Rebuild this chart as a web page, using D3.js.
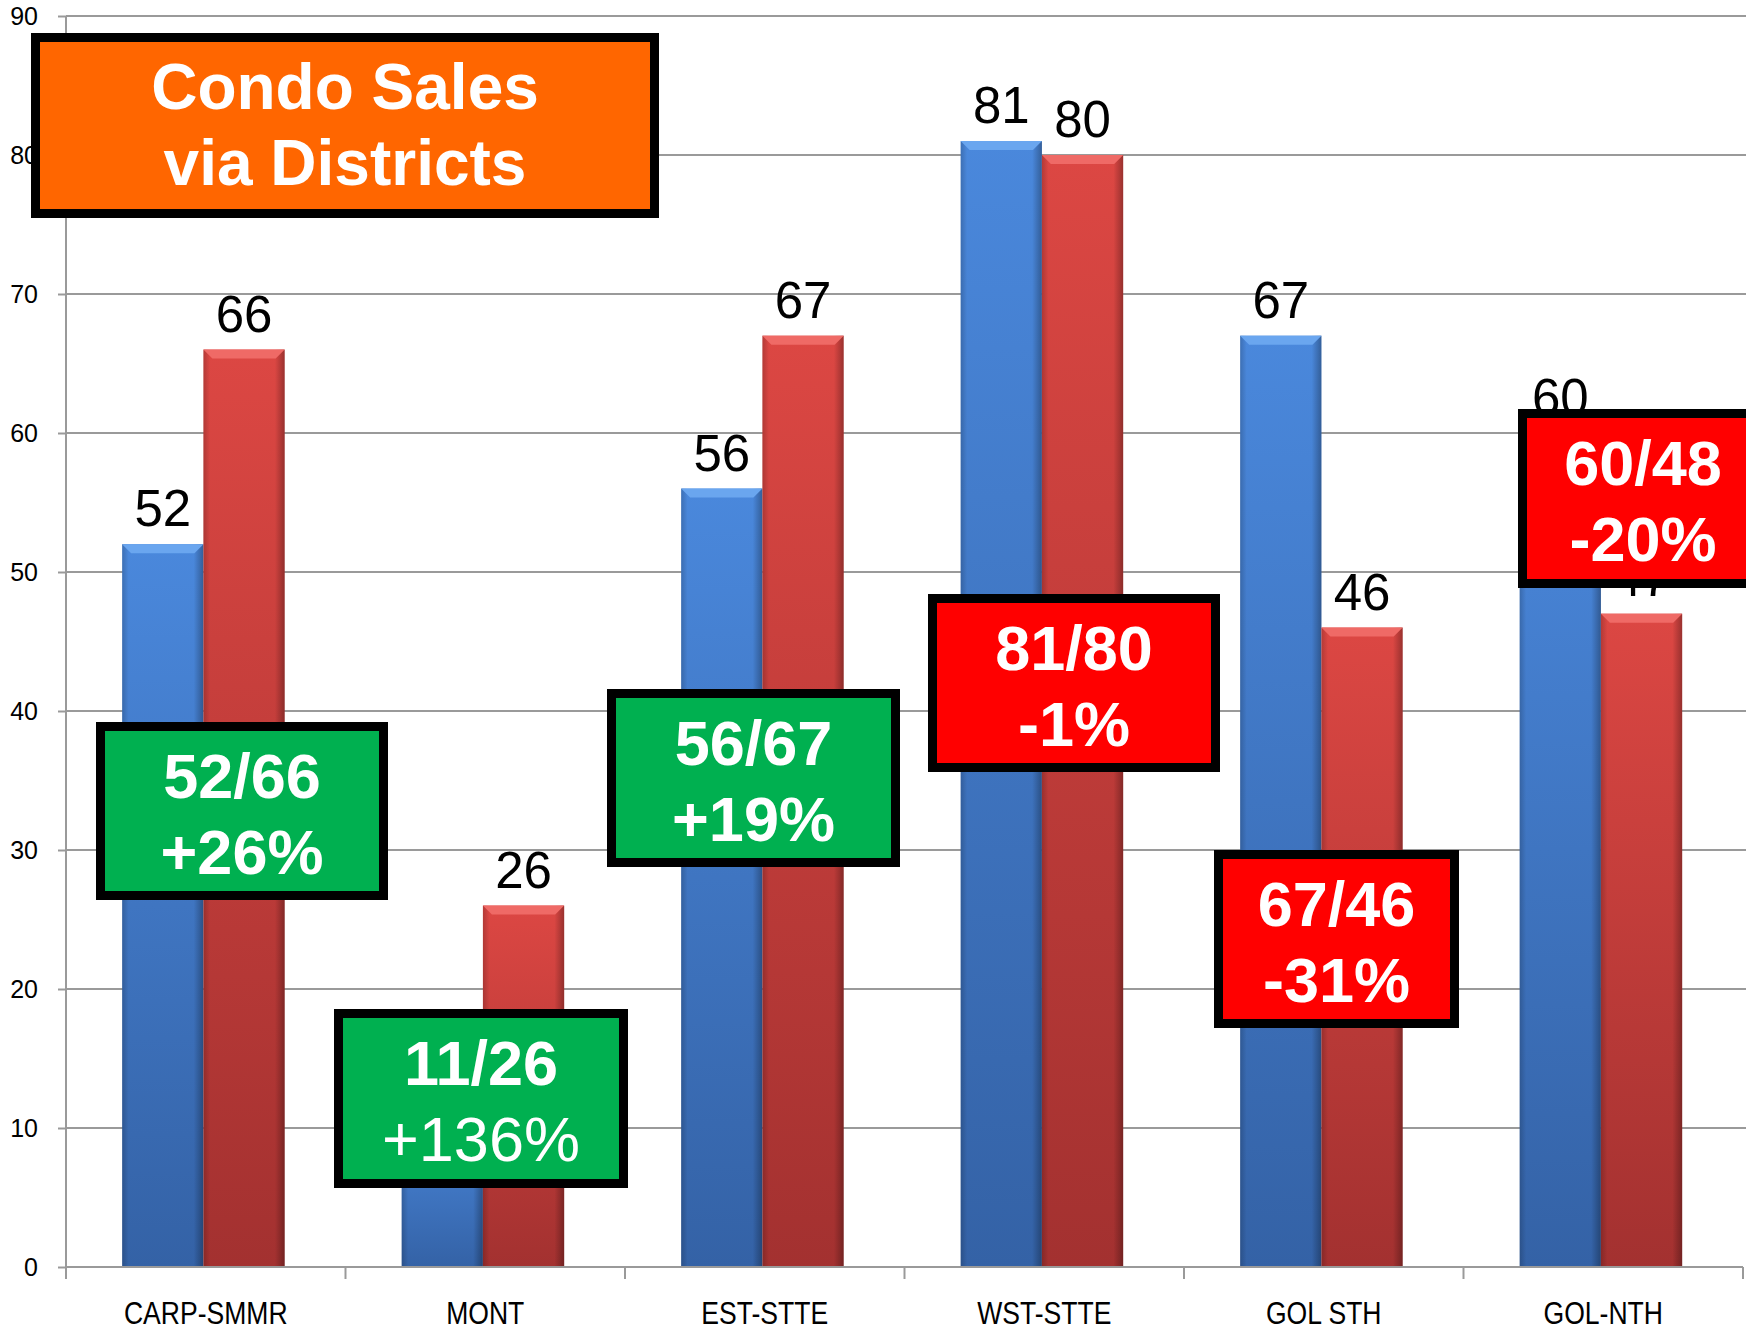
<!DOCTYPE html>
<html>
<head>
<meta charset="utf-8">
<script src="https://cdn.jsdelivr.net/npm/d3@7"></script>
<style>
  body { margin: 0; background: #fff; }
  text { font-family: "Liberation Sans", Arial, sans-serif; }
</style>
</head>
<body>
<div id="chart-area"></div>
<script>
// data
var districts = ["CARP-SMMR", "MONT", "EST-STTE", "WST-STTE", "GOL STH", "GOL-NTH"];
var blueValues = [52, 11, 56, 81, 67, 60];
var redValues = [66, 26, 67, 80, 46, 47];
var yTicks = [0, 10, 20, 30, 40, 50, 60, 70, 80, 90];
var boxLine1 = ["52/66", "11/26", "56/67", "81/80", "67/46", "60/48"];
var boxLine2 = ["+26%", "+136%", "+19%", "-1%", "-31%", "-20%"];
var boxKind = ["up", "up", "up", "down", "down", "down"];
var titleLines = ["Condo Sales", "via Districts"];

// layout of the call-out boxes (pixels)
var boxRects = [
  { x: 96, y: 722, w: 292, h: 178 },
  { x: 334, y: 1009, w: 294, h: 179 },
  { x: 607, y: 689, w: 293, h: 178 },
  { x: 928, y: 594, w: 292, h: 178 },
  { x: 1214, y: 850, w: 245, h: 178 },
  { x: 1518, y: 409, w: 250, h: 179 }
]

const WIDTH = 1746
const HEIGHT = 1332
const PLOT = { LEFT: 66, RIGHT: 1743, TOP: 16, BOTTOM: 1267 }

const svg = d3.select("#chart-area").append("svg")
  .attr("width", WIDTH)
  .attr("height", HEIGHT)

const defs = svg.append("defs")
function vGrad(id, top, bottom) {
  var g = defs.append("linearGradient").attr("id", id)
    .attr("x1", 0).attr("y1", 0).attr("x2", 0).attr("y2", 1)
  g.append("stop").attr("offset", "0%").attr("stop-color", top)
  g.append("stop").attr("offset", "100%").attr("stop-color", bottom)
}
vGrad("blueGrad", "#4a88dc", "#3462a6")
vGrad("redGrad", "#dc4743", "#a33130")
var edge = defs.append("linearGradient").attr("id", "edgeGrad")
  .attr("x1", 0).attr("y1", 0).attr("x2", 1).attr("y2", 0)
edge.append("stop").attr("offset", "0%").attr("stop-color", "#000").attr("stop-opacity", 0.18)
edge.append("stop").attr("offset", "8%").attr("stop-color", "#000").attr("stop-opacity", 0)
edge.append("stop").attr("offset", "88%").attr("stop-color", "#000").attr("stop-opacity", 0)
edge.append("stop").attr("offset", "100%").attr("stop-color", "#000").attr("stop-opacity", 0.3)

var x0 = d3.scaleBand()
  .domain(districts)
  .range([PLOT.LEFT, PLOT.RIGHT])
  .padding(0)

var x1 = d3.scaleBand()
  .domain(["blue", "red"])
  .range([0, x0.bandwidth()])
  .paddingInner(0)
  .paddingOuter(0.72)
  .align(0.48)

var y = d3.scaleLinear()
  .domain([0, 90])
  .range([PLOT.BOTTOM, PLOT.TOP])

// gridlines
svg.append("g").selectAll("line")
  .data(yTicks.slice(1))
  .enter().append("line")
  .attr("x1", PLOT.LEFT).attr("x2", WIDTH)
  .attr("y1", d => y(d)).attr("y2", d => y(d))
  .attr("stroke", "#9a9a9a").attr("stroke-width", 2)

// y axis
var yAxis = svg.append("g")
  .attr("transform", `translate(${PLOT.LEFT},0)`)
  .call(d3.axisLeft(y).tickValues(yTicks).tickSize(8).tickPadding(20))
yAxis.select(".domain").remove()
yAxis.selectAll(".tick line").attr("stroke", "#9a9a9a").attr("stroke-width", 2)
yAxis.selectAll(".tick text")
  .style("font-family", "'Liberation Sans', Arial, sans-serif")
  .style("font-size", "25px").attr("fill", "#000")
svg.append("line")
  .attr("x1", PLOT.LEFT).attr("x2", PLOT.LEFT)
  .attr("y1", PLOT.TOP).attr("y2", PLOT.BOTTOM + 9)
  .attr("stroke", "#9a9a9a").attr("stroke-width", 2)

// bars
var rows = districts.map((c, i) => ({ c: c, vals: [
  { s: "blue", v: blueValues[i] }, { s: "red", v: redValues[i] }] }))

var groups = svg.append("g").selectAll("g")
  .data(rows)
  .enter().append("g")
  .attr("transform", d => `translate(${x0(d.c)},0)`)

var bars = groups.selectAll("g.bar")
  .data(d => d.vals)
  .enter().append("g").attr("class", "bar")

bars.append("rect")
  .attr("x", d => x1(d.s)).attr("width", x1.bandwidth())
  .attr("y", d => y(d.v)).attr("height", d => y(0) - y(d.v))
  .attr("fill", d => d.s == "blue" ? "url(#blueGrad)" : "url(#redGrad)")
bars.append("rect")
  .attr("x", d => x1(d.s)).attr("width", x1.bandwidth())
  .attr("y", d => y(d.v)).attr("height", d => y(0) - y(d.v))
  .attr("fill", "url(#edgeGrad)")
// bevelled cap
var bev = 9
bars.append("path")
  .attr("d", d => {
    var l = x1(d.s), r = l + x1.bandwidth(), t = y(d.v)
    return `M${l},${t}L${r},${t}L${r - bev},${t + bev}L${l + bev},${t + bev}Z`
  })
  .attr("fill", d => d.s == "blue" ? "#6aa6ef" : "#ef6a66")

// value labels
bars.append("text")
  .attr("x", d => x1(d.s) + x1.bandwidth() / 2)
  .attr("y", d => y(d.v) - 18)
  .attr("text-anchor", "middle")
  .style("font-size", "51px")
  .attr("fill", "#000")
  .text(d => d.v)

// x axis ticks and labels
var bounds = districts.map(c => x0(c)).concat([PLOT.RIGHT])
svg.append("g").selectAll("line")
  .data(bounds)
  .enter().append("line")
  .attr("x1", d => d).attr("x2", d => d)
  .attr("y1", PLOT.BOTTOM).attr("y2", PLOT.BOTTOM + 12)
  .attr("stroke", "#9a9a9a").attr("stroke-width", 2)
svg.append("line")
  .attr("x1", PLOT.LEFT).attr("x2", PLOT.RIGHT)
  .attr("y1", PLOT.BOTTOM).attr("y2", PLOT.BOTTOM)
  .attr("stroke", "#9a9a9a").attr("stroke-width", 2)

// condensed category labels
svg.append("g").selectAll("text")
  .data(districts)
  .enter().append("text")
  .attr("transform", d => `translate(${x0(d) + x0.bandwidth() / 2},1324) scale(0.83,1)`)
  .attr("text-anchor", "middle")
  .style("font-size", "32px")
  .attr("fill", "#000")
  .text(d => d)

// call-out boxes
var bw = 9
var boxes = svg.append("g").selectAll("g")
  .data(boxRects)
  .enter().append("g")
boxes.append("rect")
  .attr("x", d => d.x + bw / 2).attr("y", d => d.y + bw / 2)
  .attr("width", d => d.w - bw).attr("height", d => d.h - bw)
  .attr("fill", (d, i) => boxKind[i] == "up" ? "#00b050" : "#ff0000")
  .attr("stroke", "#000").attr("stroke-width", bw)
boxes.append("text")
  .attr("x", d => d.x + d.w / 2)
  .attr("y", d => d.y + 76)
  .attr("text-anchor", "middle")
  .style("font-size", "63px").style("font-weight", "bold")
  .attr("fill", "#fff")
  .text((d, i) => boxLine1[i])
boxes.append("text")
  .attr("x", d => d.x + d.w / 2)
  .attr("y", d => d.y + 152)
  .attr("text-anchor", "middle")
  .style("font-size", "63px")
  .style("font-weight", (d, i) => i == 1 ? "normal" : "bold")
  .attr("fill", "#fff")
  .text((d, i) => boxLine2[i])

// title box
var title = svg.append("g")
title.append("rect")
  .attr("x", 31 + bw / 2).attr("y", 33 + bw / 2)
  .attr("width", 628 - bw).attr("height", 185 - bw)
  .attr("fill", "#ff6600")
  .attr("stroke", "#000").attr("stroke-width", bw)
title.selectAll("text")
  .data(titleLines)
  .enter().append("text")
  .attr("x", 345)
  .attr("y", (d, i) => 109 + i * 76)
  .attr("text-anchor", "middle")
  .style("font-size", "64px").style("font-weight", "bold")
  .attr("fill", "#fff")
  .text(d => d)
</script>
</body>
</html>
